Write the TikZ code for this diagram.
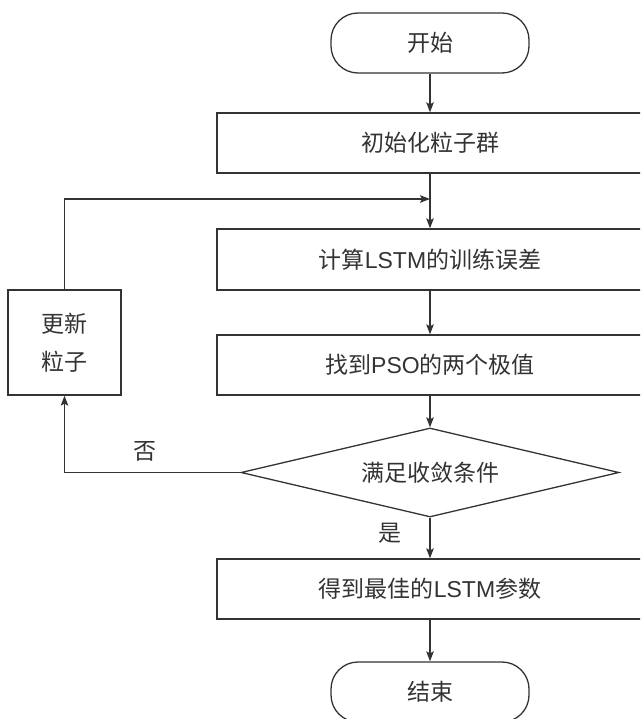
\documentclass[tikz,border=0pt]{standalone}
\usepackage{fontspec}
\setmainfont{Liberation Sans}
\newfontfamily\cjk{Noto Sans CJK SC}
\newcommand{\lat}[1]{{\rmfamily #1}}
\usetikzlibrary{shapes.geometric,arrows.meta}
\definecolor{ink}{HTML}{333333}
\begin{document}
\begin{tikzpicture}[x=1pt,y=-1pt,
  every node/.style={font=\cjk\fontsize{23}{38}\selectfont, text=ink, inner sep=0pt},
  line/.style={draw=ink, line width=1.3pt},
  arr/.style={line, -{Stealth[length=10pt,width=7.5pt,inset=2pt]}},
  term/.style={line, rectangle, rounded corners=27pt, minimum width=198pt, minimum height=60pt},
  proc/.style={line, rectangle, minimum width=426pt, minimum height=60pt},
  dec/.style={line, diamond, aspect=4.25, minimum width=378pt, minimum height=89pt}]
\useasboundingbox (0,0) rectangle (640,719);
\clip (0,0) rectangle (640,719);
\node[term] (start) at (430,43) {开始};
\node[proc] (init) at (430,143) {初始化粒子群};
\node[proc, minimum height=61pt] (calc) at (430,259.5) {计算\lat{LSTM}的训练误差};
\node[proc] (find) at (430,365) {找到\lat{PSO}的两个极值};
\node[dec] (cond) at (430,472.5) {满足收敛条件};
\node[proc] (best) at (430,589) {得到最佳的\lat{LSTM}参数};
\node[term] (stop) at (430,692) {结束};
\node[line, rectangle, minimum width=113pt, minimum height=105pt, align=center] (upd) at (64.5,342.5) {更新\\粒子};
\coordinate (merge) at (430,199);
\node (no) at (145,451) {否};
\node (yes) at (390,533) {是};
\draw[arr] (start) -- (init);
\draw[arr] (init) -- (calc);
\draw[arr] (calc) -- (find);
\draw[arr] (find) -- (cond);
\draw[arr] (cond) -- (best);
\draw[arr] (best) -- (stop);
\draw[arr] (upd.north) |- (merge);
\draw[arr] (cond.west) -| (upd.south);
\end{tikzpicture}
\end{document}
